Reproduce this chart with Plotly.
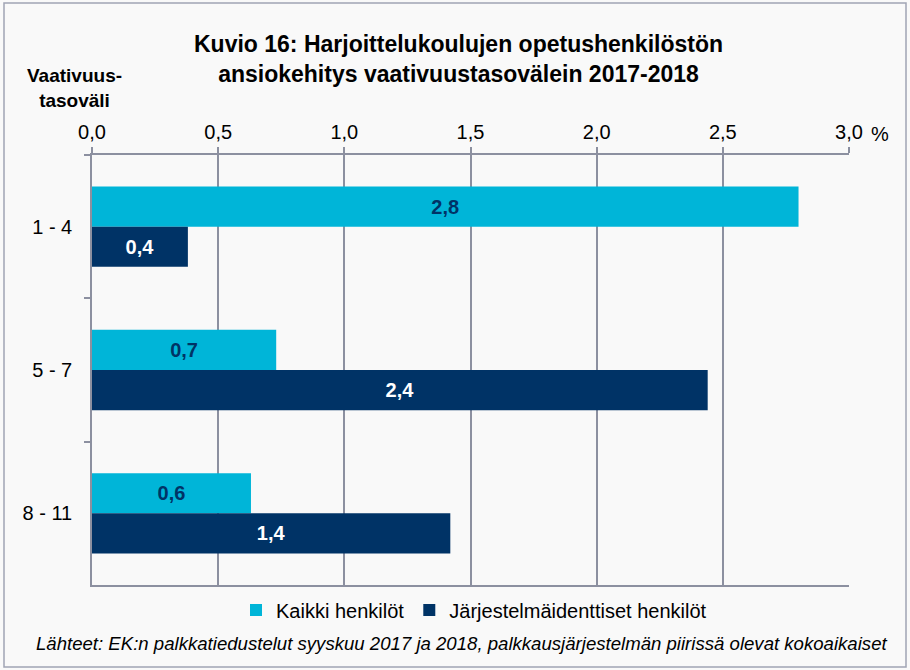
import plotly.graph_objects as go

categories = ["1 - 4", "5 - 7", "8 - 11"]
kaikki = [2.8, 0.73, 0.63]
jarj = [0.38, 2.44, 1.42]
series_names = ["Kaikki henkilöt", "Järjestelmäidenttiset henkilöt"]
x_ticks = [0, 0.5, 1.0, 1.5, 2.0, 2.5, 3.0]
x_ticklabels = ["0,0", "0,5", "1,0", "1,5", "2,0", "2,5", "3,0"]

def fmt(v):
    return f"{v:.1f}".replace(".", ",")

FONT = "Liberation Sans, Arial, sans-serif"
CYAN = "#00B5D8"
NAVY = "#003366"
GRID = "#8C90A0"
BG = "#F9F9F9"

fig = go.Figure()
fig.add_trace(go.Bar(
    y=categories, x=kaikki, orientation="h", name=series_names[0],
    marker=dict(color=CYAN, line=dict(width=0)),
    text=[fmt(v) for v in kaikki], textposition="inside", insidetextanchor="middle",
    textfont=dict(family=FONT, size=20, color=NAVY, weight="bold"),
    textangle=0, cliponaxis=False,
))
fig.add_trace(go.Bar(
    y=categories, x=jarj, orientation="h", name=series_names[1],
    marker=dict(color=NAVY, line=dict(width=0)),
    text=[fmt(v) for v in jarj], textposition="inside", insidetextanchor="middle",
    textfont=dict(family=FONT, size=20, color="white", weight="bold"),
    textangle=0, cliponaxis=False,
))

L, R, T, B = 92, 61, 155, 85
W, H = 910, 670
pw, ph = W - L - R, H - T - B

def px(x):
    return (x - L) / pw

def py(y):
    return (T + ph - y) / ph

fig.update_layout(
    template="none",
    width=W, height=H,
    margin=dict(l=L, r=R, t=T, b=B, pad=0, autoexpand=False),
    paper_bgcolor=BG, plot_bgcolor=BG,
    barmode="group", bargap=0.44, bargroupgap=0,
    font=dict(family=FONT, size=20, color="#000000"),
    uniformtext=dict(minsize=8, mode="show"),
    showlegend=True,
    legend=dict(orientation="h", x=px(474), xanchor="center", y=py(610), yanchor="middle",
                font=dict(size=20, family=FONT), bgcolor="rgba(0,0,0,0)",
                itemsizing="constant", traceorder="normal", itemwidth=30),
    xaxis=dict(
        side="top", range=[0, 3.0], tickvals=x_ticks, ticktext=x_ticklabels,
        showgrid=True, gridcolor=GRID, gridwidth=1.5,
        showline=True, linecolor=GRID, linewidth=1.5, mirror=True,
        ticks="outside", ticklen=6, tickcolor=GRID, tickwidth=1.5,
        zeroline=False, tickfont=dict(size=20, family=FONT), fixedrange=True,
        automargin=False,
    ),
    yaxis=dict(
        categoryorder="array", categoryarray=categories, autorange="reversed",
        showline=True, linecolor=GRID, linewidth=1.5,
        ticks="outside", ticklen=6, tickcolor=GRID, tickwidth=1.5,
        tickson="boundaries", showgrid=False, zeroline=False,
        tickfont=dict(size=20, family=FONT), ticklabelstandoff=14, fixedrange=True,
        automargin=False,
    ),
    shapes=[dict(type="rect", xref="paper", yref="paper",
                 x0=px(4), x1=px(906), y0=py(667), y1=py(3),
                 line=dict(color="#A0A4B4", width=1.5), fillcolor="rgba(0,0,0,0)", layer="below")],
    annotations=[
        dict(text="<b>Kuvio 16: Harjoittelukoulujen opetushenkilöstön<br>ansiokehitys vaativuustasovälein 2017-2018</b>",
             xref="paper", yref="paper", x=px(458), y=py(59), xanchor="center", yanchor="middle",
             showarrow=False, font=dict(size=23, family=FONT, color="#000000"), align="center"),
        dict(text="<b>Vaativuus-<br>tasoväli</b>",
             xref="paper", yref="paper", x=px(74), y=py(88), xanchor="center", yanchor="middle",
             showarrow=False, font=dict(size=19, family=FONT, color="#000000"), align="center"),
        dict(text="%", xref="paper", yref="paper", x=px(880), y=py(134), xanchor="center", yanchor="middle",
             showarrow=False, font=dict(size=20, family=FONT, color="#000000")),
        dict(text="<i>Lähteet: EK:n palkkatiedustelut syyskuu 2017 ja 2018, palkkausjärjestelmän piirissä olevat kokoaikaiset</i>",
             xref="paper", yref="paper", x=px(461), y=py(643), xanchor="center", yanchor="middle",
             showarrow=False, font=dict(size=18.6, family=FONT, color="#000000")),
    ],
)

fig.write_html(
    "out.html",
    config={"displayModeBar": False},
    post_script="document.body.style.margin='0';document.body.style.padding='0';"
                "document.body.style.overflow='hidden';document.body.style.background='#F9F9F9';",
)
